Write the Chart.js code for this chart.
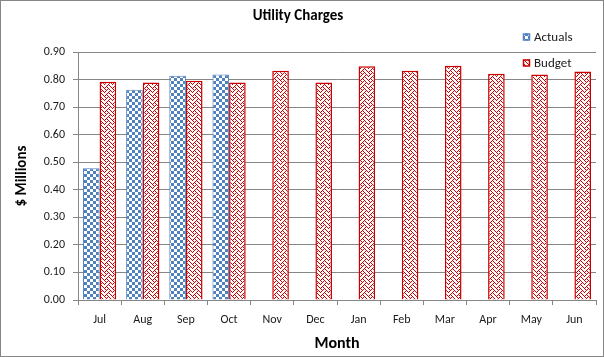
<!DOCTYPE html>
<html>
<head>
<meta charset="utf-8">
<script src="https://cdn.jsdelivr.net/npm/chart.js@4/dist/chart.umd.min.js"></script>
<style>
  html, body { margin: 0; padding: 0; background: #fff; }
  #wrap { width: 604px; height: 357px; position: relative; }
</style>
</head>
<body>
<div id="wrap"><canvas id="c"></canvas></div>
<script>
const months = ['Jul','Aug','Sep','Oct','Nov','Dec','Jan','Feb','Mar','Apr','May','Jun'];
const actuals = [0.478, 0.763, 0.814, 0.818, null, null, null, null, null, null, null, null];
const budget = [0.792, 0.789, 0.796, 0.789, 0.832, 0.789, 0.848, 0.832, 0.850, 0.821, 0.818, 0.829];
const yTicks = [0, 0.1, 0.2, 0.3, 0.4, 0.5, 0.6, 0.7, 0.8, 0.9];

const FONT = 'Carlito, Lato, "Liberation Sans", sans-serif';
const BLUE = '#4F81BD';
const RED = '#CC0000';

function checkerPattern() {
  const c = document.createElement('canvas');
  c.width = 6; c.height = 6;
  const g = c.getContext('2d');
  g.fillStyle = '#fff'; g.fillRect(0, 0, 6, 6);
  g.fillStyle = BLUE;
  g.fillRect(0, 0, 3, 3);
  g.fillRect(3, 3, 3, 3);
  return g.createPattern(c, 'repeat');
}
function weavePattern() {
  const rows = ['10001000','01010100','00100010','01000101','10001000','00010100','00100010','01010001'];
  const c = document.createElement('canvas');
  c.width = 8; c.height = 8;
  const g = c.getContext('2d');
  g.fillStyle = '#fff'; g.fillRect(0, 0, 8, 8);
  g.fillStyle = RED;
  rows.forEach((r, y) => { for (let x = 0; x < 8; x++) if (r[x] === '1') g.fillRect(x, y, 1, 1); });
  return g.createPattern(c, 'repeat');
}
const actPat = checkerPattern();
const budPat = weavePattern();

const framePlugin = {
  id: 'frame',
  beforeDraw(chart) {
    const ctx = chart.ctx;
    ctx.save();
    ctx.fillStyle = '#fff';
    ctx.fillRect(0, 0, chart.width, chart.height);
    ctx.restore();
  },
  afterDraw(chart) {
    const ctx = chart.ctx;
    ctx.save();
    ctx.strokeStyle = '#868686';
    ctx.lineWidth = 1;
    ctx.strokeRect(0.5, 0.5, chart.width - 1, chart.height - 1);
    const items = chart.data.datasets;
    const ys = [37, 63];
    ctx.font = '13px ' + FONT;
    ctx.textBaseline = 'middle';
    ctx.textAlign = 'left';
    items.forEach((ds, i) => {
      const y = ys[i];
      ctx.fillStyle = '#fff';
      ctx.fillRect(523, y - 3.5, 7, 7);
      ctx.fillStyle = ds.backgroundColor;
      ctx.fillRect(523, y - 3.5, 7, 7);
      ctx.strokeStyle = ds.borderColor;
      ctx.lineWidth = 1.5;
      ctx.strokeRect(523.5, y - 3, 6, 6);
      ctx.fillStyle = '#1a1a1a';
      ctx.fillText(ds.label, 534, y + 1);
    });
    ctx.restore();
  }
};

new Chart(document.getElementById('c'), {
  type: 'bar',
  data: {
    labels: months,
    datasets: [
      { label: 'Actuals', data: actuals, backgroundColor: actPat, borderColor: BLUE, borderWidth: 1,
        categoryPercentage: 0.77, barPercentage: 1.0 },
      { label: 'Budget', data: budget, backgroundColor: budPat, borderColor: RED, borderWidth: 1.5,
        categoryPercentage: 0.77, barPercentage: 1.0 }
    ]
  },
  options: {
    responsive: true,
    maintainAspectRatio: false,
    animation: false,
    devicePixelRatio: 1,
    layout: { padding: { left: 0, right: 8, top: 0, bottom: 0 } },
    plugins: {
      legend: { display: false },
      tooltip: { enabled: false },
      title: {
        display: true,
        text: 'Utility Charges',
        color: '#000',
        font: { family: FONT, size: 15, weight: 'bold' },
        padding: { top: 7, bottom: 27 }
      }
    },
    scales: {
      x: {
        afterFit(s) { s.height = 57; },
        grid: { display: true, drawOnChartArea: false, drawTicks: true, tickLength: 5, color: '#868686', offset: true },
        border: { display: true, color: '#868686', width: 1 },
        ticks: { color: '#1a1a1a', font: { family: FONT, size: 12 }, padding: 8, maxRotation: 0, autoSkip: false },
        title: { display: true, text: 'Month', color: '#000', font: { family: FONT, size: 16, weight: 'bold' }, padding: { top: 0, bottom: 3 } }
      },
      y: {
        min: 0, max: 0.9,
        afterFit(s) { s.width = 78; },
        afterBuildTicks(s) { s.ticks = yTicks.map(v => ({ value: v })); },
        grid: { display: true, drawOnChartArea: true, drawTicks: true, tickLength: 5, color: '#868686', lineWidth: 1 },
        border: { display: true, color: '#868686', width: 1 },
        ticks: { color: '#1a1a1a', font: { family: FONT, size: 12 }, padding: 8,
          callback: v => Number(v).toFixed(2) },
        title: { display: true, text: '$ Millions', color: '#000', font: { family: FONT, size: 15, weight: 'bold' }, padding: { top: 13, bottom: 0 } }
      }
    }
  },
  plugins: [framePlugin]
});
</script>
</body>
</html>
